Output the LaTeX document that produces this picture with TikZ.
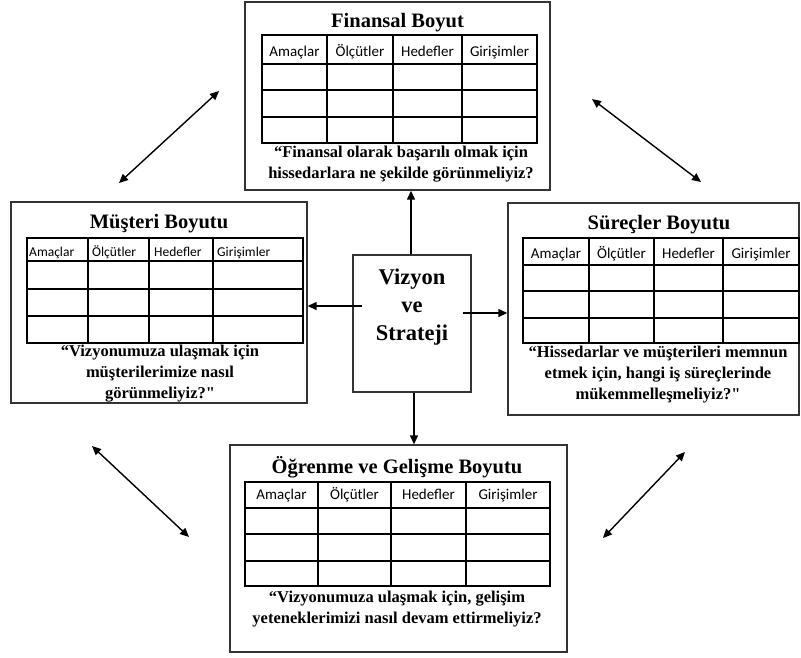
\documentclass[tikz,border=0pt]{standalone}
\usepackage{fontspec}
\setmainfont{Liberation Serif}
\newfontfamily\basfont{Carlito}
\usetikzlibrary{arrows.meta,positioning}
\tikzset{
  kutu/.style={draw=black!80,line width=1.4pt,fill=white,inner sep=0pt},
  baslik/.style={font=\bfseries\fontsize{20.5}{22}\selectfont,inner sep=0pt,anchor=base},
  soru/.style={font=\bfseries\fontsize{16.5}{21}\selectfont,align=center,inner sep=0pt},
  hucre/.style={font=\basfont\fontsize{15}{15}\selectfont,inner sep=0pt,anchor=base},
  cizgi/.style={line width=1.1pt},
  ok/.style={line width=1.4pt,-{Triangle[length=9pt,width=8pt]}},
  ciftok/.style={line width=1.4pt,{Triangle[length=9pt,width=8pt]}-{Triangle[length=9pt,width=8pt]}},
}
\begin{document}
\begin{tikzpicture}[x=1pt,y=-1pt]
\useasboundingbox (0,0) rectangle (801,657);
%\draw[help lines] (0,0) grid[step=50] (801,657);
% kutular
\node[kutu,minimum width=305pt,minimum height=188pt] (fin) at (397.5,96) {};
\node[kutu,minimum width=296pt,minimum height=201pt] (mus) at (159,302.5) {};
\node[kutu,minimum width=291pt,minimum height=212pt] (sur) at (653.5,309) {};
\node[kutu,minimum width=337pt,minimum height=207pt] (ogr) at (398.5,548.5) {};
\node[kutu,minimum width=118pt,minimum height=137pt] (vs) at (412,323.5) {};
\node[font=\bfseries\fontsize{22.5}{28}\selectfont,align=center,inner sep=0pt] (vst) at (412,307) {Vizyon\\ve\\Strateji};
%
% Finansal
\node[baslik] (finb) at (397.5,27) {Finansal Boyut};
\draw[cizgi] (262,35) rectangle (537,143);
\foreach \y in {64,90,117}\draw[cizgi] (262,\y) -- (537,\y);
\foreach \x in {327,393,462}\draw[cizgi] (\x,35) -- (\x,143);
\foreach \x/\t [count=\i] in {294.5/Amaçlar,360/Ölçütler,427.5/Hedefler,499.5/Girişimler}
\node[hucre] (fh\i) at (\x,56) {\t};
\node[soru] (fins) at (401,164) {“Finansal olarak başarılı olmak için\\hissedarlara ne şekilde görünmeliyiz?};
%
% Musteri
\node[baslik] (musb) at (159,228) {Müşteri Boyutu};
\draw[cizgi] (27,238) rectangle (303,343);
\foreach \y in {261,289,316}\draw[cizgi] (27,\y) -- (303,\y);
\foreach \x in {88,149,213}\draw[cizgi] (\x,238) -- (\x,343);
\foreach \x/\t [count=\i] in {29/Amaçlar,92/Ölçütler,154/Hedefler,217/Girişimler}
\node[hucre,anchor=base west,font=\basfont\fontsize{13.5}{13.5}\selectfont] (mh\i) at (\x,256) {\t};
\node[soru] (muss) at (160,374) {“Vizyonumuza ulaşmak için\\müşterilerimize nasıl\\görünmeliyiz?\textquotedbl};
%
% Surecler
\node[baslik] (surb) at (659,229) {Süreçler Boyutu};
\draw[cizgi] (523,238) rectangle (799,343);
\foreach \y in {265,291,318}\draw[cizgi] (523,\y) -- (799,\y);
\foreach \x in {589,654,723}\draw[cizgi] (\x,238) -- (\x,343);
\foreach \x/\t [count=\i] in {556/Amaçlar,621.5/Ölçütler,688.5/Hedefler,761/Girişimler}
\node[hucre] (sh\i) at (\x,258) {\t};
\node[soru] (surs) at (658,374.5) {“Hissedarlar ve müşterileri memnun\\etmek için, hangi iş süreçlerinde\\mükemmelleşmeliyiz?\textquotedbl};
%
% Ogrenme
\node[baslik] (ogrb) at (397,473) {Öğrenme ve Gelişme Boyutu};
\draw[cizgi] (245,482) rectangle (550,586);
\foreach \y in {508,534,561}\draw[cizgi] (245,\y) -- (550,\y);
\foreach \x in {318,391,466}\draw[cizgi] (\x,482) -- (\x,586);
\foreach \x/\t [count=\i] in {281.5/Amaçlar,354.5/Ölçütler,428.5/Hedefler,508/Girişimler}
\node[hucre] (oh\i) at (\x,499.5) {\t};
\node[soru] (ogrs) at (397,609) {“Vizyonumuza ulaşmak için, gelişim\\yeteneklerimizi nasıl devam ettirmeliyiz?};
%
% oklar
\draw[ok] ([xshift=-1pt]vs.north) -- ([xshift=-1pt]vs.north |- fin.south);
\draw[ok] ([xshift=2pt]vs.south) -- ([xshift=2pt]vs.south |- ogr.north);
\coordinate (solbas) at ([xshift=10pt,yshift=17.5pt]vs.west);
\coordinate (sagbas) at ([xshift=-9pt,yshift=10.5pt]vs.east);
\draw[ok] (solbas) -- (solbas -| mus.east);
\draw[ok] (sagbas) -- (sagbas -| sur.west);
%
\coordinate (d1a) at (119,183); \coordinate (d1b) at (219,91);
\coordinate (d2a) at (592,99);  \coordinate (d2b) at (701,182);
\coordinate (d3a) at (92,446);  \coordinate (d3b) at (189,537);
\coordinate (d4a) at (685,452); \coordinate (d4b) at (603,538);
\foreach \d in {1,...,4}\draw[ciftok] (d\d a) -- (d\d b);
\end{tikzpicture}
\end{document}
